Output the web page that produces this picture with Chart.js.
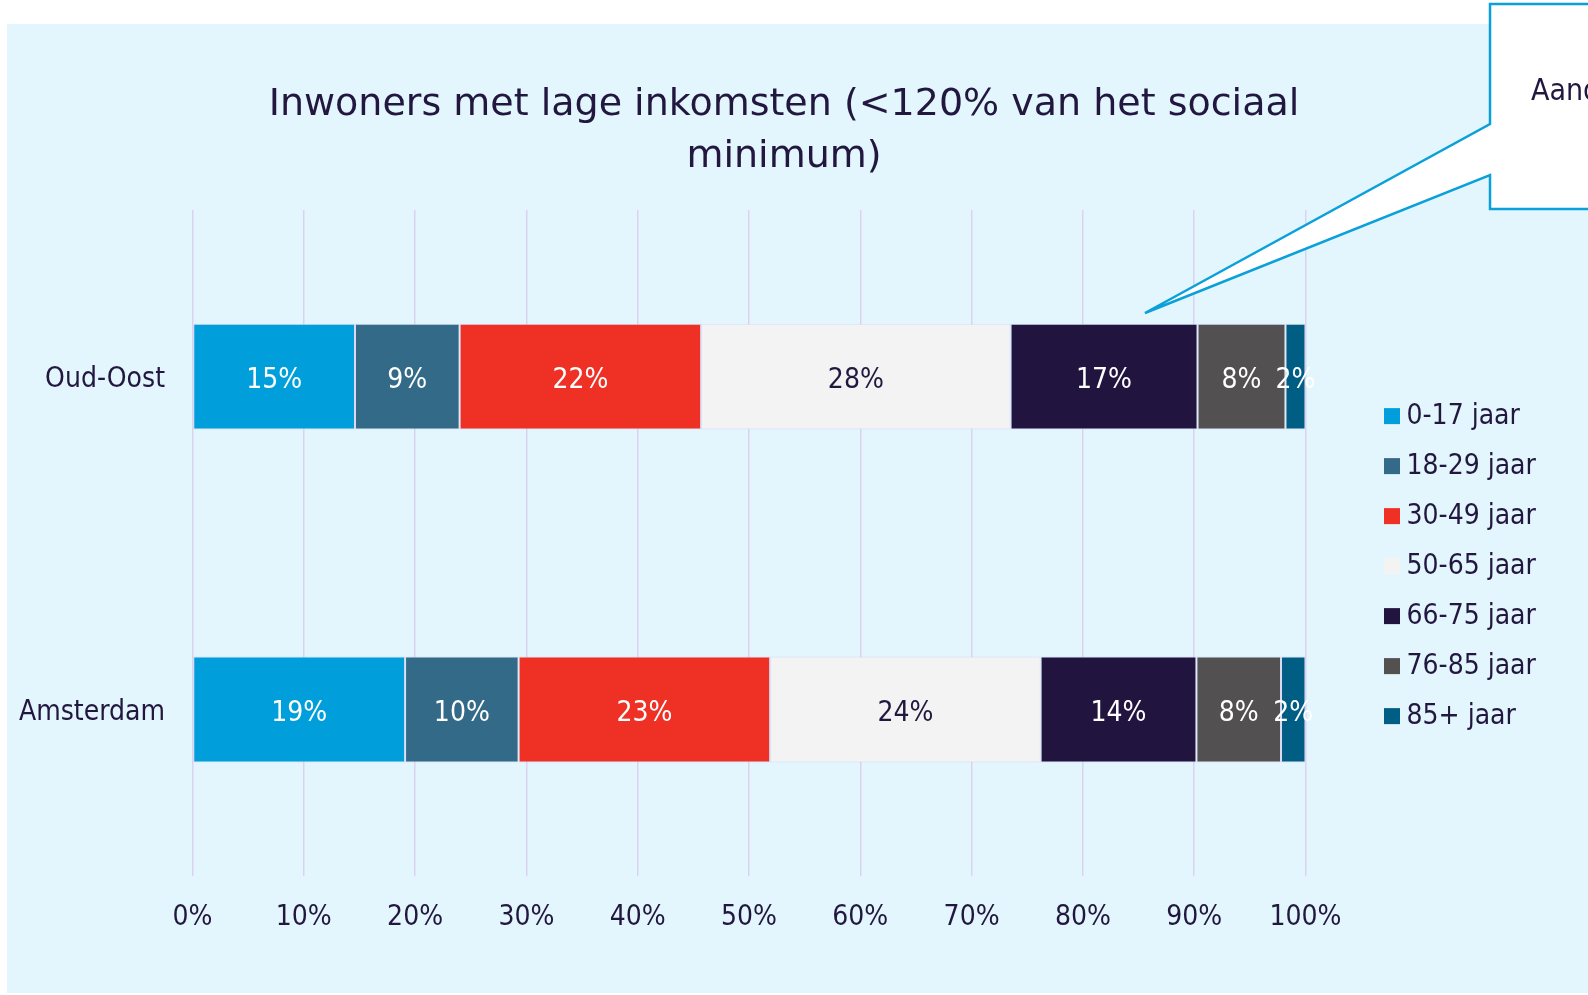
<!DOCTYPE html>
<html>
<head>
<meta charset="utf-8">
<script src="https://cdn.jsdelivr.net/npm/chart.js"></script>
<style>
  html, body { margin: 0; padding: 0; background: #ffffff; }
  #panel { position: absolute; left: 7px; top: 24px; width: 1581px; height: 969px; background: #e3f6fe; }
  #wrap { position: absolute; left: 0; top: 0; width: 1588px; height: 995px; }
</style>
</head>
<body>
<div id="panel"></div>
<div id="wrap"><canvas id="myChart" width="1588" height="995"></canvas></div>
<script>
// data (percent of low-income residents per age group)
const categories = ['Oud-Oost', 'Amsterdam'];
const ageGroups = ['0-17 jaar', '18-29 jaar', '30-49 jaar', '50-65 jaar', '66-75 jaar', '76-85 jaar', '85+ jaar'];
const oudOost = [14.6, 9.4, 21.7, 27.8, 16.8, 7.9, 1.8];
const amsterdam = [19.1, 10.2, 22.6, 24.3, 14.0, 7.6, 2.2];
const xTicks = [0, 10, 20, 30, 40, 50, 60, 70, 80, 90, 100];

const colors = ['#009fdc', '#336a88', '#ef3125', '#f3f3f3', '#211540', '#525051', '#005e85'];
const labelColors = ['#ffffff', '#ffffff', '#ffffff', '#22183f', '#ffffff', '#ffffff', '#ffffff'];
const FONT = 'Tahoma, "DejaVu Sans Condensed", "DejaVu Sans", sans-serif';
const TITLE_FONT = 'Tahoma, "DejaVu Sans", sans-serif';
const TEXT = '#22183f';

Chart.defaults.font.family = FONT;
Chart.defaults.color = TEXT;

const datasets = ageGroups.map(function (g, i) {
    return {
        label: g,
        data: [oudOost[i], amsterdam[i]],
        backgroundColor: colors[i],
        borderColor: 'rgba(214, 206, 236, 0.7)',
        borderWidth: 1,
        borderSkipped: false,
        barPercentage: 0.318,
        categoryPercentage: 1
    };
});

// percentage labels in the middle of each segment
const segmentLabels = {
    id: 'segmentLabels',
    afterDatasetsDraw(chart) {
        const ctx = chart.ctx;
        ctx.save();
        ctx.font = '28px ' + FONT;
        ctx.textAlign = 'center';
        ctx.textBaseline = 'middle';
        chart.data.datasets.forEach(function (ds, i) {
            const meta = chart.getDatasetMeta(i);
            meta.data.forEach(function (bar, j) {
                ctx.fillStyle = labelColors[i];
                ctx.fillText(Math.round(ds.data[j]) + '%', (bar.x + bar.base) / 2, bar.y + 4);
            });
        });
        ctx.restore();
    }
};

// legend on the right and the callout box
const extras = {
    id: 'extras',
    afterDraw(chart) {
        const ctx = chart.ctx;
        const area = chart.chartArea;
        ctx.save();
        ctx.font = '28px ' + FONT;
        ctx.textBaseline = 'middle';
        ctx.textAlign = 'left';
        ageGroups.forEach(function (g, i) {
            const y = area.top + 206 + i * 50;
            ctx.fillStyle = colors[i];
            ctx.fillRect(area.right + 78.5, y - 8, 16, 16);
            ctx.fillStyle = TEXT;
            ctx.fillText(g, area.right + 101, y + 1);
        });

        // callout
        ctx.beginPath();
        ctx.moveTo(1490, 4);
        ctx.lineTo(1600, 4);
        ctx.lineTo(1600, 209);
        ctx.lineTo(1490, 209);
        ctx.lineTo(1490, 175);
        ctx.lineTo(1145, 313);
        ctx.lineTo(1490, 124);
        ctx.closePath();
        ctx.fillStyle = '#ffffff';
        ctx.fill();
        ctx.lineWidth = 2.5;
        ctx.strokeStyle = '#0aa0da';
        ctx.stroke();
        ctx.fillStyle = TEXT;
        ctx.font = '30px ' + FONT;
        ctx.textBaseline = 'alphabetic';
        ctx.fillText('Aandeel', 1531, 100);
        ctx.restore();
    }
};

const ctx = document.getElementById('myChart').getContext('2d');
const myChart = new Chart(ctx, {
    type: 'bar',
    data: {
        labels: categories,
        datasets: datasets
    },
    options: {
        indexAxis: 'y',
        responsive: false,
        animation: false,
        devicePixelRatio: 1,
        layout: { padding: { left: 0, right: 20, top: 0, bottom: 0 } },
        scales: {
            x: {
                stacked: true,
                min: 0,
                max: 100,
                afterBuildTicks: function (s) {
                    s.ticks = xTicks.map(function (v) { return { value: v }; });
                },
                afterFit: function (s) { s.height = 119; },
                grid: { color: '#dbd1f0', lineWidth: 1.5, drawTicks: false },
                border: { display: false },
                ticks: {
                    padding: 25,
                    font: { size: 28 },
                    color: TEXT,
                    callback: function (v) { return v + '%'; }
                }
            },
            y: {
                stacked: true,
                afterFit: function (s) { s.width = 192.5; },
                grid: { display: false, drawTicks: false },
                border: { display: false },
                ticks: { padding: 27.5, labelOffset: 3, font: { size: 28 }, color: TEXT }
            },
            yRight: {
                position: 'right',
                type: 'category',
                labels: categories,
                afterFit: function (s) { s.width = 262.5; },
                grid: { display: false, drawTicks: false },
                border: { display: false },
                ticks: { display: false }
            }
        },
        plugins: {
            legend: { display: false },
            tooltip: { enabled: false },
            title: {
                display: true,
                text: ['Inwoners met lage inkomsten (<120% van het sociaal', 'minimum)'],
                color: TEXT,
                font: { family: TITLE_FONT, size: 38, weight: 'normal', lineHeight: 1.37 },
                padding: { top: 79, bottom: 27 }
            }
        }
    },
    plugins: [segmentLabels, extras]
});
</script>
</body>
</html>
